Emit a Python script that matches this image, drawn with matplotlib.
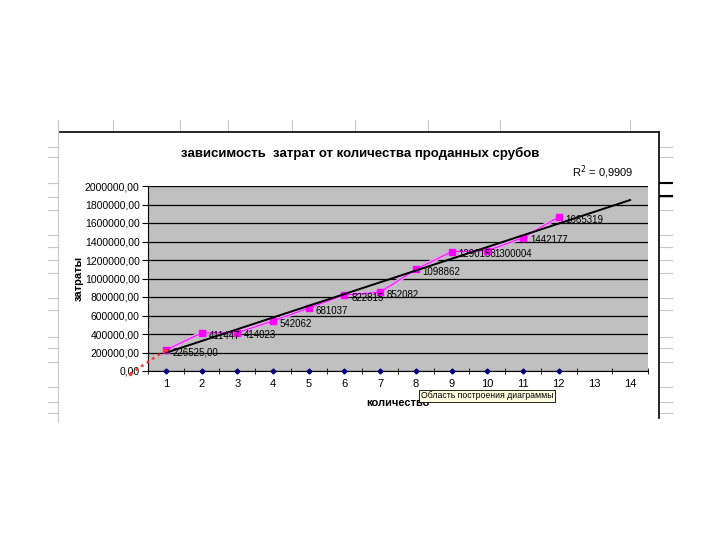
import numpy as np
import matplotlib
matplotlib.use("Agg")
import matplotlib.pyplot as plt
from matplotlib.lines import Line2D
from matplotlib.ticker import FuncFormatter

plt.rcParams['font.family'] = ['Liberation Sans', 'DejaVu Sans']

# data
kolvo = [1, 2, 3, 4, 5, 6, 7, 8, 9, 10, 11, 12]
zatraty = [226525, 411447, 414023, 542062, 681037, 822815, 852082,
           1098862, 1290158, 1300004, 1442177, 1665319]
point_labels = ["226525,00", "411447", "414023", "542062", "681037", "822815",
                "852082", "1098862", "1290158", "1300004", "1442177", "1665319"]
nuli = [0] * 12                      # second series, all zeros
red_x = [0, 1]                       # red dotted backward piece
red_y = [-30000, 226525]
x_ticks = list(range(1, 15))
r2_text = "R$^2$ = 0,9909"

fig = plt.figure(figsize=(7.2, 5.4), dpi=100)
W, H = 720.0, 540.0

def fx(px):
    return px / W

def fy(py):
    return 1 - py / H

# spreadsheet background lines
grey = '#c8c8c8'
for px in [58, 113, 180, 228, 292, 355, 428, 500, 630]:
    fig.add_artist(Line2D([fx(px), fx(px)], [fy(120), fy(132)], color=grey, lw=0.8))
fig.add_artist(Line2D([fx(58), fx(58)], [fy(120), fy(422)], color=grey, lw=0.8))
rows = [147, 157, 183, 197, 210, 235, 247, 260, 273, 298, 310, 337, 348, 362, 387, 402, 413]
for py in rows:
    fig.add_artist(Line2D([fx(48), fx(58)], [fy(py), fy(py)], color=grey, lw=0.8))
    fig.add_artist(Line2D([fx(660), fx(672)], [fy(py), fy(py)], color=grey, lw=0.8))
for py in [183, 196]:
    fig.add_artist(Line2D([fx(660), fx(672)], [fy(py), fy(py)], color='black', lw=1.5))

# chart area frame
fig.add_artist(Line2D([fx(60), fx(659)], [fy(132), fy(132)], color='black', lw=1.2))
fig.add_artist(Line2D([fx(659), fx(659)], [fy(132), fy(418)], color='black', lw=1.2))

ax = fig.add_axes([fx(148), fy(371), fx(648) - fx(148), fy(186) - fy(371)])
ax.set_facecolor('#c0c0c0')
ax.set_xlim(0.5, 14.5)
ax.set_ylim(0, 2000000)

ax.set_yticks(np.arange(0, 2000001, 200000))
ax.yaxis.set_major_formatter(FuncFormatter(lambda v, p: f"{int(v)},00"))
ax.grid(axis='y', color='black', lw=0.9)
ax.set_axisbelow(True)

ax.set_xticks(x_ticks)
ax.set_xticklabels([str(t) for t in x_ticks])
ax.set_xticks(np.arange(0.5, 15, 1), minor=True)
ax.tick_params(axis='x', which='major', length=0, pad=6, labelsize=8)
ax.tick_params(axis='x', which='minor', length=4, direction='inout')
ax.tick_params(axis='y', length=4, labelsize=7.5, pad=2)

for s in ['top', 'right']:
    ax.spines[s].set_visible(False)
ax.spines['left'].set_color('black')
ax.spines['bottom'].set_color('black')

# series line + markers
ax.plot(kolvo, zatraty, color='#e0a8ec', lw=2.8, zorder=3)
ax.plot(kolvo, zatraty, color='#ff00ff', lw=0.7, marker='s', ms=4.5,
        markeredgecolor='#ff00ff', zorder=4)

# linear trend, forecast forward to 14
k, b = np.polyfit(kolvo, zatraty, 1)
tx = np.array([1, 14])
ax.plot(tx, k * tx + b, color='black', lw=1.4, zorder=5)

# red dotted piece to the left
ax.plot(red_x, red_y, color='#ff3030', lw=1.8, ls=':', marker='.', ms=3,
        clip_on=False, zorder=5)

# zeros series
ax.plot(kolvo, nuli, color='#000080', lw=0, marker='D', ms=2.5,
        clip_on=False, zorder=6)

for xv, yv, lab in zip(kolvo, zatraty, point_labels):
    ax.annotate(lab, (xv, yv), xytext=(5, -2), textcoords='offset points',
                fontsize=7, va='center', ha='left', zorder=7)

ax.set_xlabel("количество", fontsize=8, fontweight='bold', labelpad=6)
ax.set_ylabel("затраты", fontsize=8, fontweight='bold', labelpad=1)

fig.text(fx(360), fy(153), "зависимость  затрат от количества проданных срубов",
         fontsize=9.5, fontweight='bold', ha='center', va='center')
fig.text(fx(572), fy(172), r2_text, fontsize=8, ha='left', va='center')

fig.text(fx(421), fy(396), "Область построения диаграммы", fontsize=6.3,
         ha='left', va='center',
         bbox=dict(boxstyle='square,pad=0.2', fc='#ffffe1', ec='black', lw=0.6))

fig.savefig('out.png', dpi=100)
